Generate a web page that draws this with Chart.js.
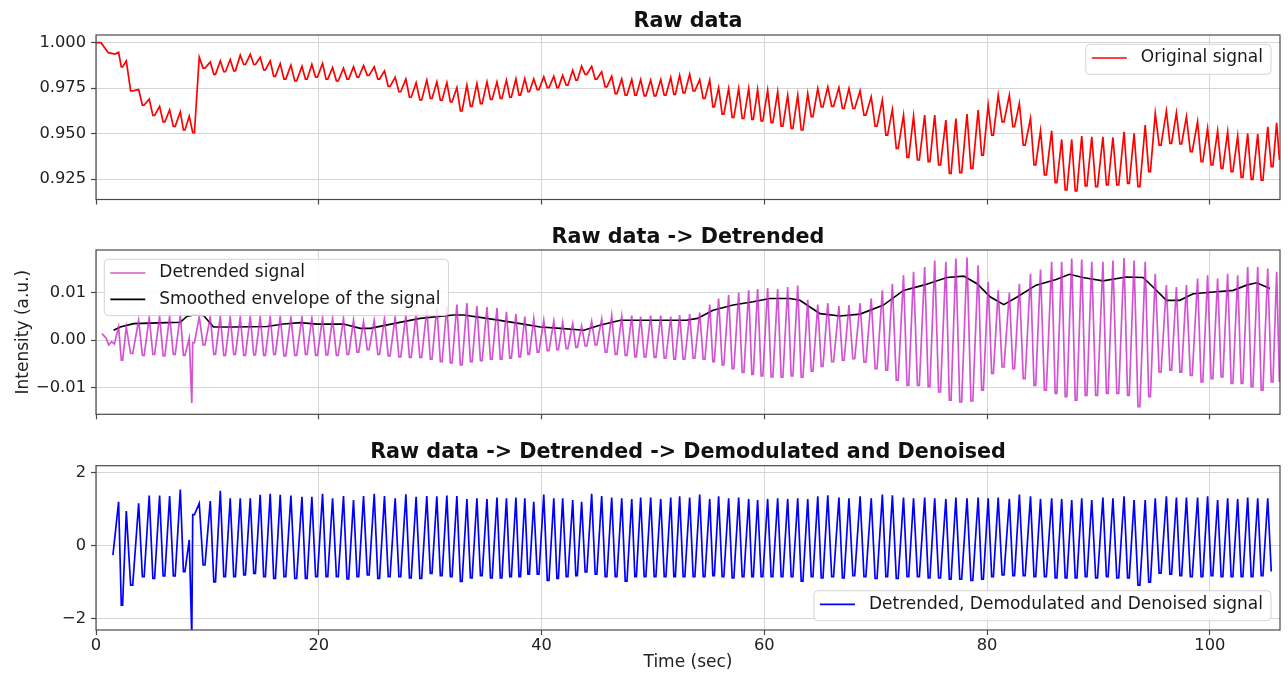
<!DOCTYPE html>
<html><head><meta charset="utf-8">
<script src="https://cdn.jsdelivr.net/npm/chart.js@4/dist/chart.umd.min.js"></script>
<style>
html,body{margin:0;padding:0;background:#fff;}
#wrap{position:relative;width:1288px;height:675px;background:#fff;}
canvas{position:absolute;left:0;top:0;}
</style></head><body><div id="wrap">
<canvas id="c1" width="1288" height="675"></canvas>
<canvas id="c2" width="1288" height="675"></canvas>
<canvas id="c3" width="1288" height="675"></canvas>
</div>
<script>
// ---------- shared time base (time of each heartbeat peak, sec) ----------
const beatTimes = [
 2.03, 2.72, 3.83, 4.78, 5.71, 6.61, 7.57, 8.37, 9.27, 10.26,
 11.16, 12.05, 12.95, 13.85, 14.74, 15.64, 16.54, 17.50, 18.49, 19.38,
 20.34, 21.24, 22.22, 23.12, 24.02, 24.98, 25.90, 26.86, 27.82, 28.74,
 29.70, 30.60, 31.50, 32.40, 33.30, 34.20, 35.10, 36.00, 36.85, 37.70,
 38.50, 39.30, 40.20, 41.10, 41.90, 42.80, 43.60, 44.50, 45.40, 46.30,
 47.20, 48.10, 48.90, 49.80, 50.70, 51.60, 52.40, 53.30, 54.20, 55.10,
 55.90, 56.80, 57.70, 58.60, 59.40, 60.30, 61.20, 62.10, 63.00, 63.90,
 64.80, 65.70, 66.70, 67.60, 68.60, 69.60, 70.60, 71.50, 72.50, 73.40,
 74.40, 75.30, 76.30, 77.20, 78.20, 79.20, 80.10, 81.00, 82.00, 82.90,
 83.90, 84.80, 85.80, 86.70, 87.60, 88.50, 89.40, 90.40, 91.30, 92.30,
 93.20, 94.20, 95.10, 96.10, 97.00, 97.90, 98.90, 99.80, 100.70, 101.60,
 102.50, 103.40, 104.30, 105.20
];

// ---------- panel 1: raw data ----------
const rawPeaks = [
 0.9947, 0.9900, 0.9742, 0.9690, 0.9650, 0.9630, 0.9620, 0.9596, 0.9920, 0.9894,
 0.9900, 0.9907, 0.9931, 0.9936, 0.9920, 0.9900, 0.9885, 0.9876, 0.9870, 0.9880,
 0.9885, 0.9863, 0.9860, 0.9867, 0.9874, 0.9867, 0.9845, 0.9810, 0.9800, 0.9780,
 0.9794, 0.9784, 0.9780, 0.9753, 0.9766, 0.9775, 0.9784, 0.9784, 0.9794, 0.9800,
 0.9803, 0.9800, 0.9812, 0.9815, 0.9820, 0.9848, 0.9870, 0.9870, 0.9840, 0.9815,
 0.9800, 0.9797, 0.9797, 0.9794, 0.9797, 0.9808, 0.9820, 0.9826, 0.9797, 0.9794,
 0.9753, 0.9748, 0.9748, 0.9748, 0.9742, 0.9739, 0.9730, 0.9711, 0.9711, 0.9720,
 0.9748, 0.9757, 0.9753, 0.9748, 0.9735, 0.9702, 0.9684, 0.9633, 0.9602, 0.9596,
 0.9602, 0.9602, 0.9574, 0.9583, 0.9607, 0.9629, 0.9657, 0.9711, 0.9711, 0.9666,
 0.9583, 0.9516, 0.9516, 0.9468, 0.9468, 0.9487, 0.9483, 0.9483, 0.9479, 0.9510,
 0.9501, 0.9547, 0.9611, 0.9625, 0.9614, 0.9593, 0.9565, 0.9529, 0.9516, 0.9510,
 0.9487, 0.9501, 0.9498, 0.9538
];
const rawTroughs = [
 0.9867, 0.9735, 0.9657, 0.9600, 0.9565, 0.9540, 0.9520, 0.9505, 0.9860, 0.9826,
 0.9840, 0.9845, 0.9880, 0.9880, 0.9850, 0.9815, 0.9800, 0.9790, 0.9800, 0.9810,
 0.9800, 0.9790, 0.9800, 0.9810, 0.9820, 0.9800, 0.9760, 0.9730, 0.9700, 0.9685,
 0.9693, 0.9684, 0.9675, 0.9625, 0.9650, 0.9665, 0.9688, 0.9693, 0.9700, 0.9711,
 0.9730, 0.9742, 0.9753, 0.9753, 0.9766, 0.9794, 0.9826, 0.9800, 0.9757, 0.9720,
 0.9711, 0.9711, 0.9708, 0.9708, 0.9711, 0.9715, 0.9724, 0.9735, 0.9693, 0.9647,
 0.9607, 0.9589, 0.9583, 0.9578, 0.9570, 0.9560, 0.9541, 0.9529, 0.9520, 0.9593,
 0.9647, 0.9650, 0.9638, 0.9638, 0.9602, 0.9541, 0.9492, 0.9419, 0.9370, 0.9355,
 0.9346, 0.9328, 0.9282, 0.9286, 0.9309, 0.9382, 0.9492, 0.9565, 0.9538, 0.9437,
 0.9328, 0.9273, 0.9231, 0.9191, 0.9185, 0.9213, 0.9209, 0.9218, 0.9218, 0.9227,
 0.9209, 0.9291, 0.9437, 0.9446, 0.9443, 0.9401, 0.9346, 0.9328, 0.9309, 0.9291,
 0.9260, 0.9249, 0.9245, 0.9319
];
const rawExtraTimes = [0.00, 0.45, 1.10, 1.70, 106.00, 106.25];
const rawExtraValues = [1.0000, 1.0000, 0.9945, 0.9937, 0.9560, 0.9355];

// ---------- panel 2: detrended + envelope ----------
const detPeaks = [
 0.0028, 0.0028, 0.0042, 0.0048, 0.0050, 0.0050, 0.0053, 0.0004, 0.0049, 0.0049,
 0.0050, 0.0049, 0.0049, 0.0050, 0.0049, 0.0050, 0.0050, 0.0049, 0.0049, 0.0048,
 0.0048, 0.0046, 0.0046, 0.0042, 0.0039, 0.0042, 0.0046, 0.0049, 0.0053, 0.0056,
 0.0065, 0.0070, 0.0072, 0.0075, 0.0078, 0.0072, 0.0070, 0.0068, 0.0060, 0.0055,
 0.0050, 0.0045, 0.0042, 0.0040, 0.0038, 0.0035, 0.0030, 0.0040, 0.0045, 0.0052,
 0.0050, 0.0052, 0.0050, 0.0052, 0.0052, 0.0050, 0.0053, 0.0055, 0.0058, 0.0075,
 0.0088, 0.0095, 0.0100, 0.0105, 0.0108, 0.0110, 0.0108, 0.0112, 0.0115, 0.0085,
 0.0075, 0.0078, 0.0072, 0.0074, 0.0078, 0.0088, 0.0105, 0.0119, 0.0137, 0.0144,
 0.0154, 0.0168, 0.0165, 0.0172, 0.0174, 0.0158, 0.0123, 0.0105, 0.0100, 0.0119,
 0.0140, 0.0149, 0.0165, 0.0165, 0.0172, 0.0170, 0.0165, 0.0165, 0.0168, 0.0173,
 0.0168, 0.0165, 0.0140, 0.0116, 0.0112, 0.0116, 0.0130, 0.0137, 0.0130, 0.0140,
 0.0137, 0.0154, 0.0154, 0.0151
];
const detTroughs = [
 -0.0042, -0.0028, -0.0032, -0.0030, -0.0033, -0.0030, -0.0032, -0.0005, -0.0010, -0.0030,
 -0.0032, -0.0030, -0.0032, -0.0031, -0.0032, -0.0030, -0.0033, -0.0032, -0.0030, -0.0032,
 -0.0031, -0.0032, -0.0030, -0.0025, -0.0020, -0.0030, -0.0033, -0.0035, -0.0036, -0.0036,
 -0.0040, -0.0045, -0.0048, -0.0052, -0.0045, -0.0043, -0.0040, -0.0040, -0.0038, -0.0035,
 -0.0030, -0.0025, -0.0022, -0.0020, -0.0018, -0.0015, -0.0012, -0.0010, -0.0025, -0.0030,
 -0.0032, -0.0035, -0.0035, -0.0036, -0.0038, -0.0040, -0.0040, -0.0038, -0.0040, -0.0045,
 -0.0052, -0.0060, -0.0068, -0.0072, -0.0075, -0.0077, -0.0078, -0.0075, -0.0078, -0.0065,
 -0.0055, -0.0045, -0.0042, -0.0039, -0.0046, -0.0060, -0.0063, -0.0084, -0.0095, -0.0095,
 -0.0098, -0.0109, -0.0126, -0.0130, -0.0128, -0.0105, -0.0070, -0.0056, -0.0060, -0.0081,
 -0.0095, -0.0105, -0.0112, -0.0119, -0.0126, -0.0116, -0.0116, -0.0112, -0.0112, -0.0116,
 -0.0140, -0.0119, -0.0067, -0.0063, -0.0067, -0.0074, -0.0088, -0.0081, -0.0077, -0.0091,
 -0.0091, -0.0098, -0.0105, -0.0088
];
const detExtraTimes = [0.53, 0.90, 1.15, 1.40, 1.65, 8.60, 106.00, 106.25];
const detExtraValues = [0.0014, 0.0005, -0.0010, -0.0003, -0.0008, -0.0132, 0.0144, -0.0088];
const envTimes = [
 1.58, 2.18, 3.38, 4.87, 6.37, 7.57, 8.16, 8.76, 9.66, 10.55,
 12.35, 15.34, 16.84, 18.33, 19.83, 22.22, 23.72, 24.62, 26.71, 29.10,
 32.10, 33.00, 35.10, 38.10, 39.90, 41.70, 43.80, 45.30, 47.10, 50.00,
 53.00, 54.00, 55.40, 57.20, 59.00, 60.50, 62.30, 63.20, 65.00, 66.80,
 68.60, 70.70, 72.50, 74.30, 76.40, 77.90, 79.10, 80.30, 81.50, 82.70,
 84.40, 86.20, 87.40, 88.60, 90.40, 92.50, 94.00, 94.90, 96.10, 97.30,
 98.50, 100.60, 102.10, 103.30, 104.20, 105.40
];
const envValues = [
 0.0021, 0.0028, 0.0035, 0.0036, 0.0037, 0.0038, 0.0050, 0.0053, 0.0052, 0.0028,
 0.0028, 0.0029, 0.0034, 0.0037, 0.0034, 0.0034, 0.0025, 0.0025, 0.0035, 0.0046,
 0.0053, 0.0053, 0.0046, 0.0035, 0.0028, 0.0025, 0.0021, 0.0032, 0.0042, 0.0042,
 0.0042, 0.0046, 0.0063, 0.0074, 0.0081, 0.0088, 0.0088, 0.0084, 0.0056, 0.0051,
 0.0055, 0.0074, 0.0105, 0.0116, 0.0132, 0.0135, 0.0119, 0.0091, 0.0075, 0.0091,
 0.0116, 0.0128, 0.0139, 0.0132, 0.0125, 0.0133, 0.0132, 0.0112, 0.0084, 0.0084,
 0.0098, 0.0102, 0.0105, 0.0116, 0.0121, 0.0109
];

// ---------- panel 3: detrended, demodulated, denoised ----------
const demPeaks = [
 1.20, 0.95, 1.16, 1.37, 1.37, 1.36, 1.54, 0.16, 1.16, 1.22,
 1.50, 1.30, 1.30, 1.30, 1.39, 1.42, 1.39, 1.37, 1.34, 1.34,
 1.42, 1.30, 1.36, 1.25, 1.36, 1.42, 1.36, 1.30, 1.41, 1.34,
 1.36, 1.35, 1.37, 1.36, 1.28, 1.30, 1.28, 1.32, 1.30, 1.32,
 1.30, 1.20, 1.40, 1.30, 1.30, 1.25, 1.20, 1.42, 1.36, 1.32,
 1.30, 1.28, 1.32, 1.32, 1.28, 1.32, 1.35, 1.32, 1.40, 1.28,
 1.35, 1.30, 1.32, 1.28, 1.25, 1.28, 1.30, 1.28, 1.30, 1.28,
 1.35, 1.38, 1.32, 1.30, 1.35, 1.30, 1.40, 1.38, 1.32, 1.30,
 1.32, 1.30, 1.28, 1.32, 1.30, 1.32, 1.30, 1.32, 1.28, 1.40,
 1.35, 1.28, 1.30, 1.28, 1.25, 1.30, 1.25, 1.32, 1.30, 1.35,
 1.25, 1.25, 1.30, 1.35, 1.32, 1.32, 1.32, 1.35, 1.25, 1.30,
 1.28, 1.32, 1.30, 1.30
];
const demTroughs = [
 -1.63, -1.08, -0.85, -0.90, -0.83, -0.83, -0.71, 0.85, -0.53, -0.99,
 -0.85, -0.85, -0.80, -0.76, -0.85, -0.90, -0.85, -0.90, -0.90, -0.85,
 -0.85, -0.85, -0.91, -0.85, -0.80, -0.90, -0.85, -0.85, -0.88, -0.90,
 -0.76, -0.82, -0.85, -0.98, -0.88, -0.82, -0.88, -0.88, -0.85, -0.85,
 -0.78, -0.78, -0.95, -0.90, -0.85, -0.82, -0.72, -0.78, -0.85, -0.85,
 -0.97, -0.85, -0.85, -0.85, -0.85, -0.85, -0.85, -0.85, -0.85, -0.82,
 -0.85, -0.88, -0.85, -0.85, -0.85, -0.85, -0.85, -0.85, -0.97, -0.85,
 -0.88, -0.85, -0.88, -0.82, -0.85, -0.90, -0.85, -0.90, -0.85, -0.85,
 -0.88, -0.88, -0.92, -0.92, -0.95, -0.92, -0.85, -0.80, -0.82, -0.82,
 -0.85, -0.85, -0.88, -0.88, -0.88, -0.85, -0.88, -0.85, -0.88, -0.88,
 -1.08, -1.00, -0.75, -0.78, -0.82, -0.85, -0.85, -0.82, -0.85, -0.85,
 -0.85, -0.85, -0.82, -0.71
];
const demExtraTimes = [1.52, 8.60];
const demExtraValues = [-0.26, -2.50];

// ---------- ticks ----------
const xTicks = [0, 20, 40, 60, 80, 100];
const xTickLabels = ['0', '20', '40', '60', '80', '100'];
const rawYTicks = [0.925, 0.950, 0.975, 1.000];
const rawYTickLabels = ['0.925', '0.950', '0.975', '1.000'];
const detYTicks = [-0.01, 0.00, 0.01];
const detYTickLabels = ['\u22120.01', '0.00', '0.01'];
const demYTicks = [-2, 0, 2];
const demYTickLabels = ['\u22122', '0', '2'];

// ---------- build line points from the read values ----------
function buildSeries(peaks, troughs, extraT, extraV, endT) {
  const pts = [];
  for (let i = 0; i < beatTimes.length; i++) {
    const t = beatTimes[i];
    const dt = (i < beatTimes.length - 1 ? beatTimes[i + 1] : t + 0.9) - t;
    pts.push({x: t, y: peaks[i]});
    pts.push({x: t + 0.35 * dt, y: troughs[i]});
    pts.push({x: t + 0.52 * dt, y: troughs[i]});
  }
  extraT.forEach((t, k) => pts.push({x: t, y: extraV[k]}));
  pts.sort((a, b) => a.x - b.x);
  return pts.filter(p => p.x <= endT);
}
const envSeries = envTimes.map((t, i) => ({x: t, y: envValues[i]}));

Chart.defaults.font.family = '"DejaVu Sans", sans-serif';
Chart.defaults.font.size = 16;
Chart.defaults.color = '#222';

const FONT = '"DejaVu Sans", sans-serif';
const decor = {
  id: 'decor',
  afterDatasetsDraw(chart, args, opts) {
    const ctx = chart.ctx, ca = chart.chartArea;
    ctx.save();
    ctx.strokeStyle = '#4a4a4a'; ctx.lineWidth = 1.2;
    ctx.strokeRect(ca.left, ca.top, ca.right - ca.left, ca.bottom - ca.top);
    ctx.fillStyle = '#111';
    ctx.font = 'bold 20.7px ' + FONT;
    ctx.textAlign = 'center'; ctx.textBaseline = 'middle';
    ctx.fillText(opts.title, (ca.left + ca.right) / 2, opts.titleY);
    if (opts.ylabel) {
      ctx.save();
      ctx.font = '17px ' + FONT; ctx.fillStyle = '#222';
      ctx.translate(23.5, (ca.top + ca.bottom) / 2);
      ctx.rotate(-Math.PI / 2);
      ctx.fillText(opts.ylabel, 0, 0);
      ctx.restore();
    }
    const L = opts.legend;
    ctx.font = '17px ' + FONT;
    const tw = Math.max(...L.items.map(it => ctx.measureText(it.label).width));
    const w = 6 + 35 + 14 + tw + 8;
    const h = 30 + (L.items.length - 1) * 26.3;
    const x0 = L.corner.indexOf('r') >= 0 ? ca.right - 9 - w : ca.left + 8.3;
    const y0 = L.corner.indexOf('u') >= 0 ? ca.top + 9.3 : ca.bottom - 9.3 - h;
    ctx.beginPath();
    if (ctx.roundRect) ctx.roundRect(x0, y0, w, h, 4); else ctx.rect(x0, y0, w, h);
    ctx.fillStyle = 'rgba(255,255,255,0.85)'; ctx.fill();
    ctx.strokeStyle = '#d4d4d4'; ctx.lineWidth = 1; ctx.stroke();
    L.items.forEach((it, k) => {
      const ry = y0 + 13.7 + k * 26.3;
      ctx.beginPath(); ctx.moveTo(x0 + 6, ry); ctx.lineTo(x0 + 41, ry);
      ctx.strokeStyle = it.color; ctx.lineWidth = 1.7; ctx.stroke();
      ctx.fillStyle = '#1a1a1a'; ctx.textAlign = 'left'; ctx.textBaseline = 'middle';
      ctx.fillText(it.label, x0 + 55, ry);
    });
    ctx.restore();
  }
};

function makeChart(id, datasets, p) {
  return new Chart(document.getElementById(id), {
    type: 'line',
    data: {datasets: datasets},
    plugins: [decor],
    options: {
      responsive: false, animation: false, devicePixelRatio: 1,
      layout: {padding: {left: 0, right: 8, top: p.top, bottom: p.padBottom}},
      plugins: {legend: {display: false}, tooltip: {enabled: false},
        decor: {title: p.title, titleY: p.titleY, legend: p.legend, ylabel: p.ylabel}},
      elements: {point: {radius: 0}, line: {tension: 0}},
      scales: {
        x: {
          type: 'linear', min: 0, max: 106.3,
          afterBuildTicks: s => { s.ticks = xTicks.map(v => ({value: v})); },
          afterFit: s => { s.height = p.xH; },
          ticks: {display: p.xLabels, autoSkip: false, maxRotation: 0, padding: 1,
                  callback: (v, i) => xTickLabels[i], color: '#222', font: {size: 16.3}},
          grid: {color: '#d6d6d6', lineWidth: 1, drawTicks: true, tickLength: 5, tickColor: '#4a4a4a', tickWidth: 1.2},
          border: {display: false},
          title: {display: !!p.xTitle, text: p.xTitle || '', color: '#222', font: {size: 17}, padding: {top: 0, bottom: 2}}
        },
        y: {
          type: 'linear', min: p.yMin, max: p.yMax,
          afterBuildTicks: s => { s.ticks = p.yTicks.map(v => ({value: v})); },
          afterFit: s => { s.width = 96; },
          ticks: {autoSkip: false, padding: 5, callback: (v, i) => p.yLabels[i], color: '#222', font: {size: 16.3}},
          grid: {color: '#d6d6d6', lineWidth: 1, drawTicks: true, tickLength: 5, tickColor: '#4a4a4a', tickWidth: 1.2},
          border: {display: false}
        }
      }
    }
  });
}

makeChart('c1', [
  {label: 'Original signal', data: buildSeries(rawPeaks, rawTroughs, rawExtraTimes, rawExtraValues, 106.3),
   borderColor: '#ff0000', borderWidth: 1.7, pointRadius: 0, fill: false}
], {top: 35, padBottom: 465.5, xH: 10, xLabels: false, title: 'Raw data', titleY: 21.5,
    yMin: 0.9138, yMax: 1.0042, yTicks: rawYTicks, yLabels: rawYTickLabels,
    legend: {corner: 'ur', items: [{label: 'Original signal', color: '#ff0000'}]}});

makeChart('c2', [
  {label: 'Detrended signal', data: buildSeries(detPeaks, detTroughs, detExtraTimes, detExtraValues, 106.3),
   borderColor: 'rgba(200,40,200,0.8)', borderWidth: 1.7, pointRadius: 0, fill: false},
  {label: 'Smoothed envelope of the signal', data: envSeries,
   borderColor: '#000000', borderWidth: 1.6, pointRadius: 0, fill: false}
], {top: 250, padBottom: 250.7, xH: 10, xLabels: false, title: 'Raw data -> Detrended', titleY: 237.5,
    yMin: -0.0156, yMax: 0.0190, yTicks: detYTicks, yLabels: detYTickLabels, ylabel: 'Intensity (a.u.)',
    legend: {corner: 'ul', items: [{label: 'Detrended signal', color: 'rgba(200,40,200,0.8)'},
                                   {label: 'Smoothed envelope of the signal', color: '#000000'}]}});

makeChart('c3', [
  {label: 'Detrended, Demodulated and Denoised signal', data: buildSeries(demPeaks, demTroughs, demExtraTimes, demExtraValues, 105.6),
   borderColor: '#0000ff', borderWidth: 1.7, pointRadius: 0, fill: false}
], {top: 465.7, padBottom: 0, xH: 45, xLabels: true, xTitle: 'Time (sec)', title: 'Raw data -> Detrended -> Demodulated and Denoised', titleY: 452.8,
    yMin: -2.31, yMax: 2.19, yTicks: demYTicks, yLabels: demYTickLabels,
    legend: {corner: 'lr', items: [{label: 'Detrended, Demodulated and Denoised signal', color: '#0000ff'}]}});
</script>
</body></html>
